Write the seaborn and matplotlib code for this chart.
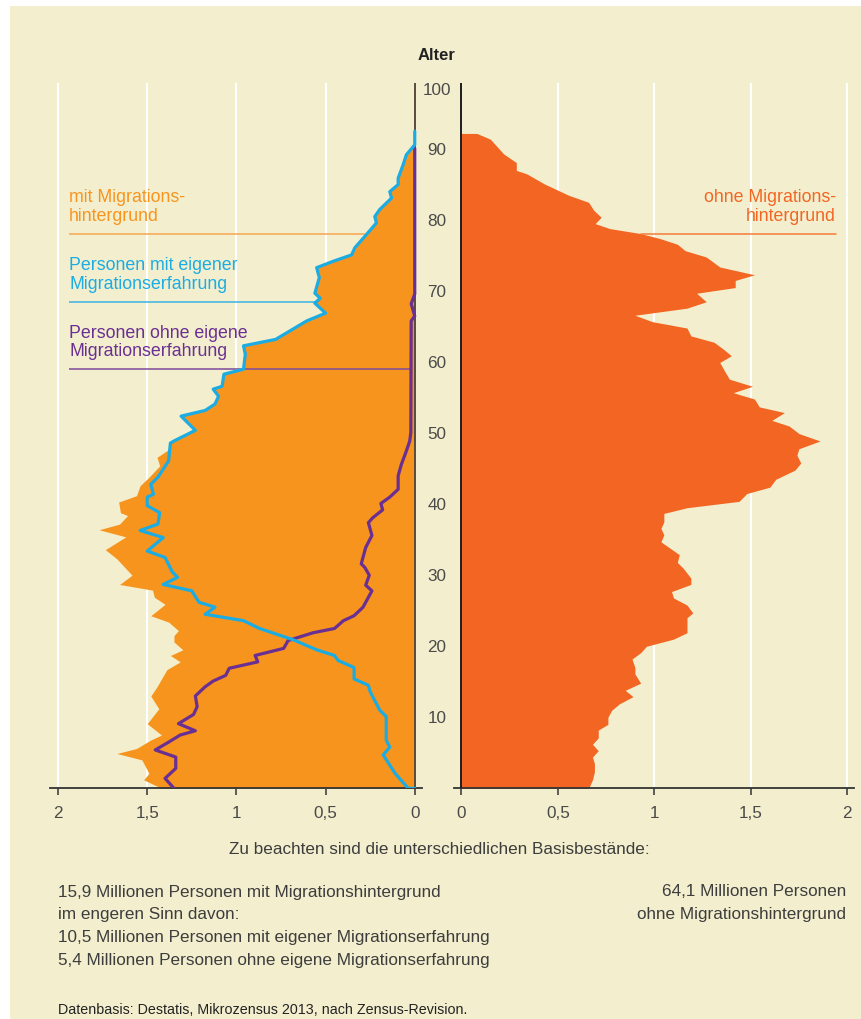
"""Altersaufbau der Bevoelkerung mit / ohne Migrationshintergrund (Mikrozensus 2013)."""
import matplotlib
matplotlib.use('Agg')
import matplotlib.pyplot as plt
from matplotlib.patches import Rectangle
import numpy as np
import pandas as pd
import seaborn as sns

# --- data (Mio. Personen je Altersjahr) -------------------------------------
# Personen mit eigener Migrationserfahrung (blue line, left panel)
EIGENE_AGE = [92.5, 90.6, 89.2, 87.8, 85.9, 85.0, 84.0, 83.1, 81.5, 80.5, 79.6, 77.7,
              76.1, 75.1, 74.2, 73.3, 71.9, 69.7, 69.0, 68.3, 66.9, 65.8, 63.2, 62.3,
              61.1, 59.0, 58.3, 56.6, 56.2, 55.2, 54.1, 53.2, 52.4, 50.4, 48.9, 48.6,
              46.1, 43.8, 42.8, 41.4, 41.0, 39.8, 38.8, 37.2, 36.3, 35.3, 33.4, 32.5,
              30.5, 29.7, 28.7, 27.8, 26.2, 25.5, 24.5, 23.6, 22.5, 20.9, 19.5, 18.7,
              18.0, 17.0, 15.4, 14.5, 13.6, 11.0, 10.1, 6.8, 5.8, 4.7, 2.1, 0.0, 0.0]
EIGENE_VAL = [0.0, 0.0, 0.047, 0.065, 0.093, 0.093, 0.14, 0.13, 0.196, 0.224, 0.215, 0.28,
              0.336, 0.354, 0.457, 0.55, 0.535, 0.56, 0.53, 0.56, 0.50, 0.606, 0.78, 0.96,
              0.95, 0.96, 1.07, 1.08, 1.13, 1.10, 1.12, 1.175, 1.31, 1.23, 1.35, 1.37,
              1.38, 1.44, 1.48, 1.465, 1.50, 1.50, 1.43, 1.44, 1.54, 1.41, 1.50, 1.40,
              1.36, 1.33, 1.41, 1.25, 1.21, 1.12, 1.175, 0.96, 0.87, 0.68, 0.55, 0.45,
              0.43, 0.34, 0.34, 0.26, 0.25, 0.196, 0.16, 0.16, 0.14, 0.177, 0.11, 0.037, 0.0]

# Personen ohne eigene Migrationserfahrung (purple line, left panel)
OHNE_EIGENE_AGE = [90.1, 69.6, 68.2, 66.5, 65.8, 50.1, 48.9, 47.5, 45.6, 44.0, 42.1, 41.0,
                   40.1, 39.2, 38.1, 37.4, 35.6, 33.9, 31.6, 31.1, 30.0, 28.6, 27.8, 25.5,
                   24.3, 23.6, 22.5, 21.9, 20.8, 19.7, 18.7, 17.8, 16.9, 15.9, 15.1, 14.3,
                   13.0, 11.5, 10.4, 9.1, 8.1, 7.5, 6.5, 5.4, 4.4, 2.8, 1.4, 0.0]
OHNE_EIGENE_VAL = [0.0, 0.0, 0.02, 0.0, 0.02, 0.022, 0.028, 0.047, 0.075, 0.093, 0.093, 0.14,
                   0.19, 0.18, 0.235, 0.26, 0.24, 0.275, 0.30, 0.28, 0.255, 0.275, 0.24, 0.29,
                   0.34, 0.40, 0.45, 0.57, 0.71, 0.735, 0.895, 0.88, 1.04, 1.06, 1.13, 1.175,
                   1.23, 1.22, 1.24, 1.325, 1.23, 1.315, 1.38, 1.455, 1.34, 1.34, 1.40, 1.35]

# mit Migrationshintergrund (orange area, left panel)
MIT_AGE = [90.6, 89.2, 87.8, 85.9, 85.0, 84.0, 83.1, 81.5, 80.5, 79.6, 77.7, 76.1, 75.1,
           74.2, 73.3, 71.9, 69.7, 69.0, 68.3, 66.9, 65.8, 63.2, 62.3, 61.1, 59.0, 58.3,
           56.6, 56.2, 55.2, 54.1, 53.2, 52.4, 50.4, 48.9, 48.6, 47.7, 46.6, 45.4, 43.8,
           42.6, 41.2, 40.3, 38.8, 38.4, 37.2, 36.4, 35.4, 33.6, 32.3, 30.0, 28.7, 27.9,
           26.9, 25.9, 24.3, 23.4, 22.2, 21.5, 20.6, 19.5, 18.7, 17.8, 16.7, 14.3, 13.0,
           11.2, 9.1, 7.5, 6.8, 5.6, 4.9, 4.0, 2.1, 1.2, 0.0]
MIT_VAL = [0.0, 0.05, 0.07, 0.097, 0.097, 0.145, 0.135, 0.2, 0.228, 0.22, 0.285, 0.34, 0.36,
           0.46, 0.555, 0.54, 0.565, 0.535, 0.565, 0.505, 0.61, 0.785, 0.965, 0.955, 0.965,
           1.075, 1.085, 1.135, 1.105, 1.125, 1.18, 1.315, 1.235, 1.355, 1.375, 1.38, 1.445,
           1.43, 1.49, 1.54, 1.56, 1.66, 1.65, 1.61, 1.655, 1.77, 1.62, 1.735, 1.67, 1.585,
           1.655, 1.47, 1.46, 1.40, 1.48, 1.38, 1.325, 1.35, 1.35, 1.30, 1.37, 1.315, 1.39,
           1.445, 1.48, 1.435, 1.50, 1.42, 1.48, 1.56, 1.67, 1.53, 1.49, 1.52, 1.42]

# ohne Migrationshintergrund (red-orange area, right panel)
OHNE_AGE = [92.2, 91.4, 89.3, 88.1, 87.0, 86.5, 85.1, 83.5, 82.5, 81.4, 80.4, 79.5, 78.8,
            78.1, 77.4, 76.6, 75.7, 74.8, 73.4, 72.3, 71.5, 70.5, 69.7, 68.5, 67.6, 66.6,
            65.7, 64.8, 63.7, 62.8, 61.8, 60.9, 59.95, 58.5, 57.6, 56.6, 55.7, 54.8, 53.7,
            52.9, 51.8, 51.0, 49.95, 48.9, 47.8, 46.9, 45.8, 44.8, 43.5, 42.4, 41.5, 40.4,
            39.5, 38.7, 37.5, 36.6, 35.7, 34.7, 32.9, 31.8, 31.0, 29.6, 28.7, 27.7, 26.8,
            25.8, 24.7, 24.0, 21.9, 21.0, 20.0, 19.1, 18.2, 17.0, 16.1, 14.8, 13.8, 12.9,
            11.9, 11.0, 10.0, 9.0, 8.2, 7.1, 6.2, 5.3, 4.4, 3.5, 2.3, 1.2, 0.0]
OHNE_VAL = [0.08, 0.15, 0.22, 0.285, 0.285, 0.34, 0.43, 0.556, 0.66, 0.686, 0.725, 0.694,
            0.77, 0.93, 1.03, 1.12, 1.16, 1.27, 1.34, 1.52, 1.42, 1.42, 1.22, 1.27, 1.17,
            0.90, 0.99, 1.17, 1.19, 1.31, 1.36, 1.40, 1.34, 1.37, 1.39, 1.51, 1.41, 1.52,
            1.545, 1.675, 1.61, 1.70, 1.75, 1.86, 1.75, 1.74, 1.76, 1.73, 1.63, 1.60, 1.48,
            1.44, 1.17, 1.05, 1.05, 1.035, 1.05, 1.035, 1.13, 1.12, 1.15, 1.19, 1.19, 1.09,
            1.10, 1.17, 1.20, 1.17, 1.17, 1.10, 0.96, 0.93, 0.885, 0.90, 0.90, 0.93, 0.85,
            0.89, 0.82, 0.78, 0.76, 0.76, 0.71, 0.71, 0.68, 0.71, 0.68, 0.69, 0.69, 0.68, 0.66]

AGE_TICKS = [10, 20, 30, 40, 50, 60, 70, 80, 90]
X_TICKS = [0, 0.5, 1, 1.5, 2]
X_LABELS = ['0', '0,5', '1', '1,5', '2']

# --- style --------------------------------------------------------------------
BG = '#F3EFCE'
C_MIT = '#F7941D'
C_OHNE = '#F26522'
C_EIGENE = '#1AACE3'
C_OHNE_EIGENE = '#6A2F92'
C_TEXT = '#3d3d3d'
TICK_FS = 12.3
BODY_FS = 12.3
LABEL_FS = 12.8

sns.set_theme(style='white', context='paper')
plt.rcParams['font.family'] = ['Liberation Sans', 'DejaVu Sans']

W, H = 861, 1019
fig = plt.figure(figsize=(W / 100, H / 100), dpi=100, facecolor='white')
fig.patches.append(Rectangle((10 / W, 0), 1, (H - 6) / H, transform=fig.transFigure,
                             facecolor=BG, edgecolor='none', zorder=-10))


def px_axes(x0, x1, y_top, y_bot):
    return fig.add_axes([x0 / W, 1 - y_bot / H, (x1 - x0) / W, (y_bot - y_top) / H])


AGE_TOP = 99.3
ax_l = px_axes(50, 421.7, 83, 788.3)
ax_r = px_axes(454, 854, 83, 788.3)


def edge(ages, vals, a):
    return float(np.interp(a, ages[::-1], vals[::-1]))


for ax, xlim, axis_col in [(ax_l, (2.045, -0.039), '#5a4c3c'), (ax_r, (-0.038, 2.036), '#1c1c1c')]:
    ax.set_facecolor(BG)
    ax.patch.set_alpha(0)
    ax.set_xlim(*xlim)
    ax.set_ylim(0, AGE_TOP)
    for s in ['top', 'left', 'right']:
        ax.spines[s].set_visible(False)
    ax.spines['bottom'].set_color('#333333')
    ax.spines['bottom'].set_linewidth(1.3)
    ax.set_xticks(X_TICKS)
    ax.set_xticklabels(X_LABELS)
    ax.tick_params(axis='x', direction='out', length=5, width=1.1, color='#333333',
                   labelsize=TICK_FS, labelcolor='#4a4a4a', pad=7.5, bottom=True)
    ax.grid(axis='x', color='white', lw=1.5)
    ax.grid(axis='y', visible=False)
    ax.set_axisbelow(True)
    ax.axvline(0, color=axis_col, lw=1.4, zorder=3)

# left panel
ax_l.fill_betweenx(MIT_AGE, 0, MIT_VAL, color=C_MIT, lw=0, zorder=2)
df_oe = pd.DataFrame({'wert': OHNE_EIGENE_VAL, 'alter': OHNE_EIGENE_AGE})
df_e = pd.DataFrame({'wert': EIGENE_VAL, 'alter': EIGENE_AGE})
sns.lineplot(data=df_oe, x='wert', y='alter', orient='y', sort=False, estimator=None,
             color=C_OHNE_EIGENE, lw=2.3, ax=ax_l, zorder=4)
sns.lineplot(data=df_e, x='wert', y='alter', orient='y', sort=False, estimator=None,
             color=C_EIGENE, lw=2.3, ax=ax_l, zorder=5)
ax_l.set_xlabel('')
ax_l.set_ylabel('')

ax_l.yaxis.tick_right()
ax_l.set_yticks(AGE_TICKS)
ax_l.set_yticklabels([str(a) for a in AGE_TICKS])
ax_l.tick_params(axis='y', length=0, pad=11, labelsize=TICK_FS, labelcolor='#4a4a4a', right=True)
for lbl in ax_l.get_yticklabels():
    lbl.set_ha('center')
ax_l.text(1.0 + 15.3 / 371.7, 1.0, '100', transform=ax_l.transAxes, ha='center', va='top',
          fontsize=TICK_FS, color='#4a4a4a')

LABEL_X = 1.938
labels_left = [
    ('mit Migrations-\nhintergrund', C_MIT, '#F6A651', 78.1, MIT_AGE, MIT_VAL),
    ('Personen mit eigener\nMigrationserfahrung', C_EIGENE, '#3AB2E4', 68.5, EIGENE_AGE, EIGENE_VAL),
    ('Personen ohne eigene\nMigrationserfahrung', C_OHNE_EIGENE, '#7D4A9C', 59.05,
     OHNE_EIGENE_AGE, OHNE_EIGENE_VAL),
]
for txt, tcol, lcol, a, ages, vals in labels_left:
    end = edge(ages, vals, a)
    ax_l.plot([LABEL_X, end], [a, a], color=lcol, lw=1.1, zorder=3.5, solid_capstyle='butt')
    ax_l.annotate(txt, xy=(LABEL_X, a), xytext=(0, 6.5), textcoords='offset points',
                  ha='left', va='bottom', fontsize=LABEL_FS, color=tcol, linespacing=1.1)

# right panel
ax_r.fill_betweenx(OHNE_AGE, 0, OHNE_VAL, color=C_OHNE, lw=0, zorder=2)
ax_r.set_yticks([])
a = 78.1
ax_r.plot([edge(OHNE_AGE, OHNE_VAL, a), 1.943], [a, a], color='#F47A3A', lw=1.1, zorder=3)
ax_r.annotate('ohne Migrations-\nhintergrund', xy=(1.943, a), xytext=(0, 6.5),
              textcoords='offset points', ha='right', va='bottom', fontsize=LABEL_FS,
              color=C_OHNE, linespacing=1.1)

# texts
fig.text(436.5 / W, 1 - 56 / H, 'Alter', ha='center', va='center', fontsize=12,
         fontweight='bold', color='#222222')
fig.text(439 / W, 1 - 850 / H, 'Zu beachten sind die unterschiedlichen Basisbestände:',
         ha='center', va='center', fontsize=BODY_FS, color=C_TEXT)
left_lines = ['15,9 Millionen Personen mit Migrationshintergrund',
              'im engeren Sinn davon:',
              '10,5 Millionen Personen mit eigener Migrationserfahrung',
              '5,4 Millionen Personen ohne eigene Migrationserfahrung']
for i, line in enumerate(left_lines):
    fig.text(58 / W, 1 - (892 + 22.8 * i) / H, line, ha='left', va='center',
             fontsize=BODY_FS, color=C_TEXT)
for i, line in enumerate(['64,1 Millionen Personen', 'ohne Migrationshintergrund']):
    fig.text(846 / W, 1 - (892 + 22.8 * i) / H, line, ha='right', va='center',
             fontsize=BODY_FS, color=C_TEXT)
fig.text(58 / W, 1 - 1010 / H, 'Datenbasis: Destatis, Mikrozensus 2013, nach Zensus-Revision.',
         ha='left', va='center', fontsize=10.3, color='#222222')

fig.savefig('out.png', dpi=100, facecolor=fig.get_facecolor())
